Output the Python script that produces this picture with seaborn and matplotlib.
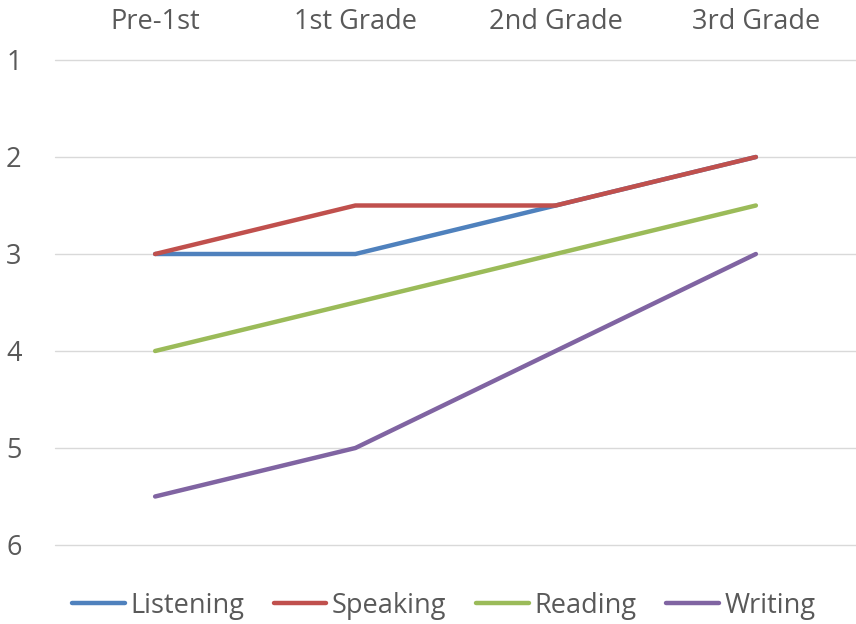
import matplotlib
matplotlib.use("Agg")
import matplotlib.pyplot as plt
import seaborn as sns
import pandas as pd

categories = ["Pre-1st", "1st Grade", "2nd Grade", "3rd Grade"]
series_names = ["Listening", "Speaking", "Reading", "Writing"]
listening = [3, 3, 2.5, 2]
speaking = [3, 2.5, 2.5, 2]
reading = [4, 3.5, 3, 2.5]
writing = [5.5, 5, 4, 3]
colors = ["#4F81BD", "#C0504D", "#9BBB59", "#8064A2"]

values = [listening, speaking, reading, writing]
rows = []
for name, vals in zip(series_names, values):
    for i, v in enumerate(vals):
        rows.append({"Grade": i, "Series": name, "Level": v})
df = pd.DataFrame(rows)

sns.set_theme(style="white")
plt.rcParams['font.family'] = ['Open Sans', 'DejaVu Sans']

fig = plt.figure(figsize=(8.56, 6.24), dpi=100)
ax = fig.add_axes([55/856, 1 - 545/624, 1 - 55/856, (545 - 60)/624])

sns.lineplot(data=df, x="Grade", y="Level", hue="Series", hue_order=series_names,
             palette=colors, linewidth=3.2, ax=ax, legend=True)

ax.set_xlim(-0.5, 3.5)
ax.set_ylim(6, 1)
ax.set_yticks([1, 2, 3, 4, 5, 6])
ax.set_xticks(range(len(categories)))
ax.set_xticklabels(categories)
ax.xaxis.tick_top()
ax.tick_params(axis='x', length=0, pad=17, labelsize=19.5, colors="#595959")
ax.tick_params(axis='y', length=0, pad=24, labelsize=19.5, colors="#595959")
ax.set_xlabel("")
ax.set_ylabel("")
ax.yaxis.grid(True, color="#D9D9D9", linewidth=1)
for gl in ax.get_ygridlines():
    gl.set_clip_on(False)
ax.xaxis.grid(False)
for s in ax.spines.values():
    s.set_visible(False)

handles, labels = ax.get_legend_handles_labels()
ax.legend(handles, labels, loc="center", bbox_to_anchor=(0.5 - 12/801, -0.125),
          ncol=4, frameon=False, fontsize=19.5, handlelength=1.95, columnspacing=1.1,
          handletextpad=0.2, labelcolor="#595959")

fig.savefig("out.png", dpi=100)
